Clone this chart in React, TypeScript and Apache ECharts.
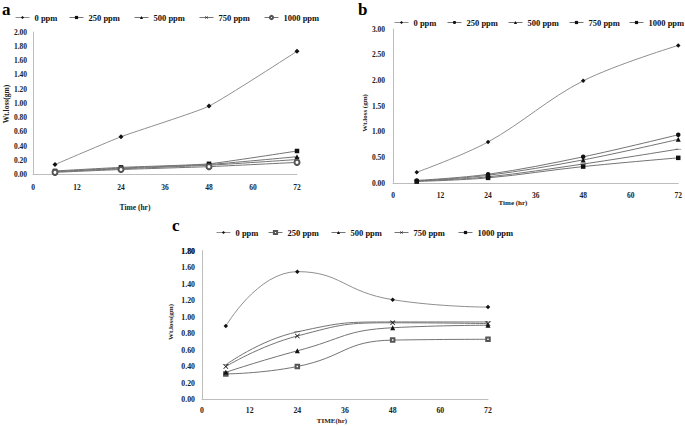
import React, { useEffect, useRef } from "react";
import * as echarts from "echarts";

// ---- data ----
const hours = [6, 24, 48, 72];
const seriesNames = ["0 ppm", "250 ppm", "500 ppm", "750 ppm", "1000 ppm"];

const aPpm0 = [0.14, 0.53, 0.96, 1.73];
const aPpm250 = [0.05, 0.1, 0.15, 0.33];
const aPpm500 = [0.04, 0.09, 0.14, 0.25];
const aPpm750 = [0.04, 0.08, 0.13, 0.21];
const aPpm1000 = [0.03, 0.07, 0.11, 0.17];

const bPpm0 = [0.21, 0.8, 1.99, 2.68];
const bPpm250 = [0.05, 0.17, 0.51, 0.94];
const bPpm500 = [0.04, 0.15, 0.45, 0.85];
const bPpm750 = [0.04, 0.12, 0.37, 0.66];
const bPpm1000 = [0.03, 0.1, 0.32, 0.49];

const cPpm0 = [0.89, 1.55, 1.21, 1.12];
const cPpm250 = [0.31, 0.4, 0.72, 0.73];
const cPpm500 = [0.33, 0.59, 0.87, 0.9];
const cPpm750 = [0.4, 0.77, 0.93, 0.92];
const cPpm1000 = [0.42, 0.82, 0.94, 0.94];

const xTicks = [0, 12, 24, 36, 48, 60, 72];
const yTicksA = [0, 0.2, 0.4, 0.6, 0.8, 1.0, 1.2, 1.4, 1.6, 1.8, 2.0];
const yTicksB = [0, 0.5, 1.0, 1.5, 2.0, 2.5, 3.0];
const yTicksC = [0, 0.2, 0.4, 0.6, 0.8, 1.0, 1.2, 1.4, 1.6, 1.8];

// ---- styling ----
const FONT = '"Liberation Serif", "Times New Roman", serif';
const CROSS = "path://M0,1L1,0L5,4L9,0L10,1L6,5L10,9L9,10L5,6L1,10L0,9L4,5Z";
const DASH = "path://M0,0L10,0L10,2.5L0,2.5Z";

type Sym = { symbol: string; size: number | number[] };

interface PanelCfg {
  letter: string;
  letterPos: [number, number];
  grid: { left: number; top: number; width: number; height: number };
  yTicks: number[];
  yMax: number;
  data: number[][];
  symbols: Sym[];
  smooth: number;
  legendLefts: number[];
  legendTop: number;
  labelSize: number;
  yLabelMargin: number;
  xLabelMargin: number;
  xTitle: string;
  xTitlePos: [number, number];
  yTitle: string;
  yTitlePos: [number, number];
  titleSize: number;
  ensureTopLabel?: boolean;
}

function buildGraphic(cfg: PanelCfg) {
  return [
    {
      id: "letter",
      type: "text",
      x: cfg.letterPos[0],
      y: cfg.letterPos[1],
      silent: true,
      style: {
        text: cfg.letter,
        font: `bold 17px ${FONT}`,
        fill: "#000",
        textAlign: "left",
        textVerticalAlign: "middle",
      },
    },
    {
      id: "xTitle",
      type: "text",
      x: cfg.xTitlePos[0],
      y: cfg.xTitlePos[1],
      silent: true,
      style: {
        text: cfg.xTitle,
        font: `bold ${cfg.titleSize}px ${FONT}`,
        fill: "#222",
        textAlign: "center",
        textVerticalAlign: "middle",
      },
    },
    {
      id: "yTitle",
      type: "text",
      x: cfg.yTitlePos[0],
      y: cfg.yTitlePos[1],
      rotation: Math.PI / 2,
      silent: true,
      style: {
        text: cfg.yTitle,
        font: `bold ${cfg.titleSize}px ${FONT}`,
        fill: "#222",
        textAlign: "center",
        textVerticalAlign: "middle",
      },
    },
  ];
}

function buildOption(cfg: PanelCfg) {
  const series = seriesNames.map((name, i) => {
    const sym = cfg.symbols[i].symbol;
    const empty = sym.startsWith("empty");
    return {
      name,
      type: "line",
      smooth: cfg.smooth,
      data: hours.map((h, k) => [h, cfg.data[i][k]]),
      symbol: sym,
      symbolSize: cfg.symbols[i].size,
      symbolKeepAspect: true,
      showAllSymbol: true,
      lineStyle: { color: i === 0 ? "#8f8f8f" : "#747474", width: 1 },
      itemStyle: empty
        ? { color: "#555555", borderColor: "#555555", borderWidth: 0.7 }
        : { color: "#111111", borderWidth: 0 },
      emphasis: { disabled: true },
    };
  });
  const legend = seriesNames.map((name, i) => ({
    data: [name],
    left: cfg.legendLefts[i],
    top: cfg.legendTop,
    padding: 0,
    itemWidth: 14,
    itemHeight: 4,
    selectedMode: false,
    itemStyle: { borderWidth: 0.6 },
    lineStyle: { width: 1 },
    textStyle: { fontFamily: FONT, fontWeight: "bold", fontSize: 8.5, color: "#111" },
  }));
  const axisLabel = {
    fontFamily: FONT,
    fontWeight: "bold",
    fontSize: cfg.labelSize,
    color: "#222",
    hideOverlap: false,
  };
  const yT = cfg.yTicks;
  return {
    animation: false,
    backgroundColor: "#ffffff",
    grid: { ...cfg.grid, containLabel: false },
    legend,
    xAxis: {
      type: "value",
      min: xTicks[0],
      max: xTicks[xTicks.length - 1],
      interval: xTicks[1] - xTicks[0],
      axisLine: { show: true, lineStyle: { color: "#bdbdbd", width: 1 } },
      axisTick: { show: false },
      splitLine: { show: false },
      axisLabel: { ...axisLabel, margin: cfg.xLabelMargin, customValues: xTicks },
    },
    yAxis: {
      type: "value",
      min: yT[0],
      max: cfg.yMax,
      axisLine: { show: true, lineStyle: { color: "#bdbdbd", width: 1 } },
      axisTick: { show: false },
      splitLine: { show: false },
      axisLabel: {
        ...axisLabel,
        margin: cfg.yLabelMargin,
        customValues: yT,
        showMaxLabel: true,
        showMinLabel: true,
        formatter: (v: number) => v.toFixed(2),
      },
    },
    series,
    graphic: buildGraphic(cfg),
  };
}

const panelA: PanelCfg = {
  letter: "a",
  letterPos: [2, 9],
  grid: { left: 33, top: 32, width: 264, height: 142.5 },
  yTicks: yTicksA,
  yMax: 2,
  data: [aPpm0, aPpm250, aPpm500, aPpm750, aPpm1000],
  symbols: [
    { symbol: "diamond", size: 5 },
    { symbol: "rect", size: 4.5 },
    { symbol: "triangle", size: 5 },
    { symbol: CROSS, size: 5 },
    { symbol: "emptyCircle", size: 5 },
  ],
  smooth: 0.15,
  legendLefts: [15, 69, 134, 199, 264],
  legendTop: 13,
  labelSize: 7.5,
  yLabelMargin: 6,
  xLabelMargin: 9,
  xTitle: "Time (hr)",
  xTitlePos: [135, 207],
  yTitle: "Wt.loss(gm)",
  yTitlePos: [6, 104],
  titleSize: 7.5,
};

const panelB: PanelCfg = {
  letter: "b",
  letterPos: [18, 9],
  grid: { left: 53, top: 29, width: 288, height: 154 },
  yTicks: yTicksB,
  yMax: 3,
  data: [bPpm0, bPpm250, bPpm500, bPpm750, bPpm1000],
  symbols: [
    { symbol: "diamond", size: 4.5 },
    { symbol: "circle", size: 4.5 },
    { symbol: "triangle", size: 5 },
    { symbol: DASH, size: [6, 1.5] },
    { symbol: "rect", size: 4.5 },
  ],
  smooth: 0.35,
  legendLefts: [54, 107, 168, 229, 289],
  legendTop: 18,
  labelSize: 7.5,
  yLabelMargin: 8,
  xLabelMargin: 8,
  xTitle: "Time (hr)",
  xTitlePos: [173, 203],
  yTitle: "Wt.loss (gm)",
  yTitlePos: [25, 113],
  titleSize: 7,
};

const panelC: PanelCfg = {
  letter: "c",
  letterPos: [12, 10],
  grid: { left: 42, top: 35.6, width: 286, height: 148.9 },
  yTicks: yTicksC,
  yMax: 1.805,
  data: [cPpm0, cPpm250, cPpm500, cPpm750, cPpm1000],
  symbols: [
    { symbol: "diamond", size: 4.5 },
    { symbol: "emptyRect", size: 3.5 },
    { symbol: "triangle", size: 5 },
    { symbol: CROSS, size: 5 },
    { symbol: DASH, size: [6, 1.5] },
  ],
  smooth: 0.5,
  legendLefts: [56, 108, 171, 234, 298],
  legendTop: 13,
  labelSize: 7.8,
  yLabelMargin: 7,
  xLabelMargin: 7,
  xTitle: "TIME(hr)",
  xTitlePos: [172, 206],
  yTitle: "Wt.loss(gm)",
  yTitlePos: [11, 107],
  titleSize: 7,
  ensureTopLabel: true,
};

function Panel({ cfg, style }: { cfg: PanelCfg; style: React.CSSProperties }) {
  const ref = useRef<HTMLDivElement>(null);
  useEffect(() => {
    if (!ref.current) return;
    const chart = echarts.init(ref.current, undefined, { renderer: "svg" });
    chart.setOption(buildOption(cfg) as any);
    if (cfg.ensureTopLabel) {
      // place the top tick label through the axis scale (the library drops it here)
      const topVal = cfg.yTicks[cfg.yTicks.length - 1];
      const py = chart.convertToPixel({ yAxisIndex: 0 }, topVal) as number;
      const px = chart.convertToPixel({ xAxisIndex: 0 }, xTicks[0]) as number;
      chart.setOption({
        graphic: [
          ...buildGraphic(cfg),
          {
            id: "topTickLabel",
            type: "text",
            x: px - cfg.yLabelMargin,
            y: py,
            silent: true,
            style: {
              text: topVal.toFixed(2),
              font: `bold ${cfg.labelSize}px ${FONT}`,
              fill: "#222",
              textAlign: "right",
              textVerticalAlign: "middle",
            },
          },
        ],
      } as any);
    }
    return () => chart.dispose();
  }, [cfg]);
  return <div ref={ref} style={{ position: "absolute", ...style }} />;
}

export default function App() {
  return (
    <div
      style={{
        position: "fixed",
        left: 0,
        top: 0,
        width: 685,
        height: 426,
        background: "#ffffff",
        overflow: "hidden",
      }}
    >
      <Panel cfg={panelA} style={{ left: 0, top: 0, width: 340, height: 215 }} />
      <Panel cfg={panelB} style={{ left: 340, top: 0, width: 345, height: 215 }} />
      <Panel cfg={panelC} style={{ left: 160, top: 215, width: 380, height: 211 }} />
    </div>
  );
}
